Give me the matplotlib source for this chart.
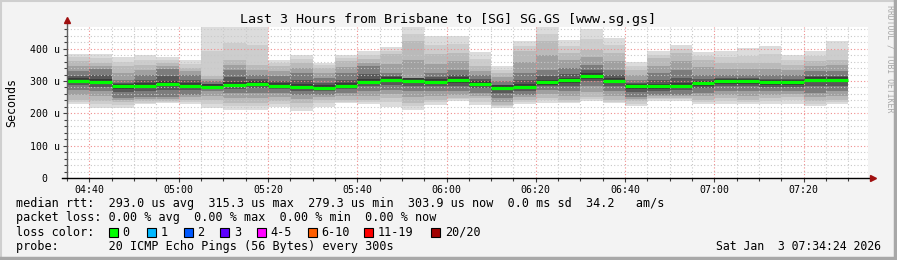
import numpy as np
import matplotlib.pyplot as plt
from matplotlib.lines import Line2D
from matplotlib.patches import Rectangle
from matplotlib.ticker import MultipleLocator, FuncFormatter

# ---- DATOS (microsegundos) -------------------------------------------------
# cada barra = 5 minutos, la primera empieza a las 04:35
start_time = "04:35"
step_min = 5
end_time = "07:34:24"

median = [300.8, 297.7, 283.0, 285.0, 291.5, 285.0, 282.0, 288.0, 291.0, 285.0,
          282.0, 279.3, 285.0, 298.0, 304.0, 301.0, 298.0, 303.0, 291.5, 279.3,
          282.0, 295.6, 301.8, 315.3, 301.0, 283.0, 283.0, 286.0, 292.5, 298.7,
          298.7, 295.6, 295.6, 304.0, 303.9]
# humo: ping maximo / minimo
ping_hi = [385, 385, 373, 381, 373, 366, 470, 470, 470, 366,
           380, 356, 381, 394, 406, 470, 440, 440, 389, 347,
           425, 470, 428, 460, 434, 358, 392, 412, 390, 392,
           402, 409, 381, 394, 425]
ping_lo = [228, 218, 218, 228, 233, 228, 215, 211, 211, 221,
           208, 221, 231, 228, 221, 211, 226, 239, 226, 218,
           228, 233, 231, 237, 231, 223, 239, 239, 228, 228,
           228, 228, 228, 223, 228]
# banda intermedia
band_hi = [361, 357, 345, 350, 355, 340, 314, 366, 350, 345,
           355, 340, 361, 368, 382, 423, 382, 387, 345, 324,
           392, 423, 387, 397, 387, 335, 371, 387, 366, 355,
           355, 355, 350, 361, 366]
band_lo = [242, 237, 235, 237, 237, 240, 240, 232, 232, 237,
           232, 242, 242, 242, 247, 232, 242, 247, 247, 226,
           242, 247, 242, 252, 242, 237, 247, 247, 242, 247,
           242, 247, 252, 237, 242]
# nucleo oscuro
core_hi = [330, 337, 304, 319, 337, 319, 299, 335, 319, 314,
           324, 309, 324, 345, 324, 309, 324, 335, 319, 299,
           324, 335, 340, 350, 335, 304, 324, 335, 319, 319,
           319, 319, 319, 330, 330]
core_lo = [273, 268, 247, 252, 252, 258, 268, 263, 263, 263,
           258, 258, 263, 268, 273, 268, 268, 268, 263, 247,
           258, 273, 268, 283, 268, 252, 258, 258, 263, 268,
           268, 268, 268, 263, 268]

loss_labels = ["0", "1", "2", "3", "4-5", "6-10", "11-19", "20/20"]
loss_colors = ["#00ff00", "#00b8ff", "#0059ff", "#5e00ff",
               "#ff00ff", "#ff5e00", "#ff0000", "#a00000"]

title = "Last 3 Hours from Brisbane to [SG] SG.GS [www.sg.gs]"
stats_rtt = "median rtt:  293.0 us avg  315.3 us max  279.3 us min  303.9 us now  0.0 ms sd  34.2   am/s"
stats_loss = "packet loss: 0.00 % avg  0.00 % max  0.00 % min  0.00 % now"
probe_txt = "probe:       20 ICMP Echo Pings (56 Bytes) every 300s"
date_txt = "Sat Jan  3 07:34:24 2026"

# ---- FIGURA -----------------------------------------------------------------

plt.rcParams['font.family'] = 'DejaVu Sans Mono'

W, H = 897, 260
fig = plt.figure(figsize=(W / 100, H / 100), dpi=100, facecolor='#f3f3f3')
ax = fig.add_axes([67 / W, 82 / H, 801 / W, 151 / H])
ax.set_facecolor('white')


def to_min(s):
    p = [float(v) for v in s.split(':')]
    return p[0] * 60 + p[1] + (p[2] / 60 if len(p) > 2 else 0)


t0 = to_min(start_time)
x = t0 + step_min * np.arange(len(median))

med = np.array(median)
hi, lo = np.array(ping_hi), np.array(ping_lo)
bh, bl = np.array(band_hi), np.array(band_lo)
ch, cl = np.array(core_hi), np.array(core_lo)

# capas de humo, de fuera hacia dentro
layers = [
    (lo, hi, '#dcdcdc'),
    ((lo + bl) / 2, (hi + bh) / 2, '#cdcdcd'),
    (bl, bh, '#bababa'),
    ((bl + cl) / 2, (bh + ch) / 2, '#a0a0a0'),
    (cl, ch, '#7c7c7c'),
    ((cl + med) / 2, (ch + med) / 2, '#585858'),
    (med - 8, med + 8, '#3a3a3a'),
]
for bottom, top, col in layers:
    ax.bar(x, top - bottom, bottom=bottom, width=step_min, align='edge',
           color=col, linewidth=0, zorder=1)

# mediana
ax.hlines(med, x, x + step_min, colors=loss_colors[0], lw=2.3, zorder=4)

ax.set_xlim(t0, to_min(end_time))
ax.set_ylim(0, 467)

ax.xaxis.set_major_locator(MultipleLocator(20))
ax.xaxis.set_minor_locator(MultipleLocator(5))
ax.yaxis.set_major_locator(MultipleLocator(100))
ax.yaxis.set_minor_locator(MultipleLocator(20))
ax.xaxis.set_major_formatter(FuncFormatter(lambda v, p: f"{int(v // 60):02d}:{int(v % 60):02d}"))
ax.yaxis.set_major_formatter(FuncFormatter(lambda v, p: "0  " if v == 0 else f"{int(v)} u"))

ax.set_axisbelow(False)
ax.grid(which='minor', color='#c8c8c8', ls=(0, (1, 2)), lw=0.8, zorder=2)
ax.grid(which='major', color='#f08c8c', ls=(0, (1, 2)), lw=0.8, zorder=2)

ax.tick_params(which='both', direction='out', color='#404040', width=0.8,
               labelsize=7.1, pad=2)
ax.tick_params(which='major', length=3)
ax.tick_params(which='minor', length=2)

for s in ['top', 'right', 'left', 'bottom']:
    ax.spines[s].set_visible(False)

# ejes con flechas
ax.plot([0, 0], [0, 1.045], transform=ax.transAxes, color='#606060', lw=1,
        clip_on=False, zorder=5)
ax.plot([-0.006, 1.006], [0, 0], transform=ax.transAxes, color='black', lw=1,
        clip_on=False, zorder=5)
ax.plot([0], [1.045], marker='^', ms=4.5, color='#a01010', transform=ax.transAxes,
        clip_on=False, zorder=6)
ax.plot([1.006], [0], marker='>', ms=4.5, color='#a01010', transform=ax.transAxes,
        clip_on=False, zorder=6)

ax.set_ylabel('Seconds', fontsize=8.4)
ax.yaxis.set_label_coords(-49 / 801, 0.5)

# ---- TEXTOS -----------------------------------------------------------------

fs = 8.47
fig.text(448 / W, 1 - 19 / H, title, ha='center', va='center', fontsize=9.6)
fig.text(890 / W, 1 - 59 / H, "RRDTOOL / TOBI OETIKER", rotation=270,
         ha='center', va='center', fontsize=5.9, color='#a8a8a8')

fig.text(16 / W, 1 - 204 / H, stats_rtt, ha='left', va='center', fontsize=fs)
fig.text(16 / W, 1 - 218 / H, stats_loss, ha='left', va='center', fontsize=fs)
fig.text(16 / W, 1 - 232 / H, "loss color:", ha='left', va='center', fontsize=fs)
fig.text(16 / W, 1 - 246.5 / H, probe_txt, ha='left', va='center', fontsize=fs)
fig.text(881 / W, 1 - 246.5 / H, date_txt, ha='right', va='center', fontsize=8.3)

label_x = [122.5, 160.5, 197.5, 234, 270.5, 321.5, 377.5, 445]
for lx, lab, col in zip(label_x, loss_labels, loss_colors):
    fig.patches.append(Rectangle(((lx - 14) / W, 1 - 237 / H), 9 / W, 9 / H,
                                 transform=fig.transFigure, facecolor=col,
                                 edgecolor='black', lw=0.8))
    fig.text(lx / W, 1 - 232 / H, lab, ha='left', va='center', fontsize=fs)

# marco
fig.add_artist(Line2D([0, 1], [1 - 1 / H, 1 - 1 / H], color='#cfcfcf', lw=1.5))
fig.add_artist(Line2D([1 / W, 1 / W], [0, 1], color='#cfcfcf', lw=1.5))
fig.add_artist(Line2D([0, 1], [2 / H, 2 / H], color='#a8a8a8', lw=2.5))
fig.add_artist(Line2D([1 - 2 / W, 1 - 2 / W], [0, 1], color='#a8a8a8', lw=2.5))

fig.savefig('out.png', dpi=100, facecolor=fig.get_facecolor())
